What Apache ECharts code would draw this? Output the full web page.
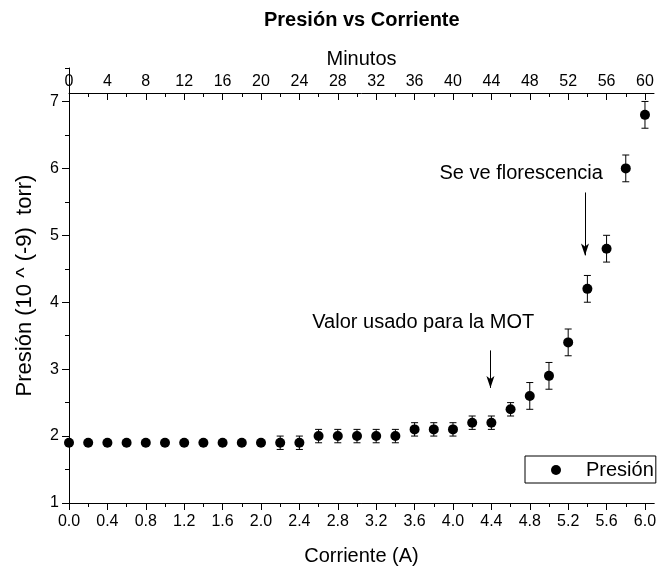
<!DOCTYPE html>
<html>
<head>
<meta charset="utf-8">
<script src="https://cdn.jsdelivr.net/npm/echarts@6/dist/echarts.min.js"></script>
<style>html,body{margin:0;padding:0;background:#fff}#c{width:665px;height:571px}</style>
</head>
<body>
<div id="c"></div>
<script>
// ---- data ----
const corriente = [0.0,0.2,0.4,0.6,0.8,1.0,1.2,1.4,1.6,1.8,2.0,2.2,2.4,2.6,2.8,3.0,3.2,3.4,3.6,3.8,4.0,4.2,4.4,4.6,4.8,5.0,5.2,5.4,5.6,5.8,6.0];
const presion   = [1.9,1.9,1.9,1.9,1.9,1.9,1.9,1.9,1.9,1.9,1.9,1.9,1.9,2.0,2.0,2.0,2.0,2.0,2.1,2.1,2.1,2.2,2.2,2.4,2.6,2.9,3.4,4.2,4.8,6.0,6.8];
const errores   = [0,0,0,0,0,0,0,0,0,0,0,0.1,0.1,0.1,0.1,0.1,0.1,0.1,0.1,0.1,0.1,0.1,0.1,0.1,0.2,0.2,0.2,0.2,0.2,0.2,0.2];
const xMajorTicks = [0.0,0.4,0.8,1.2,1.6,2.0,2.4,2.8,3.2,3.6,4.0,4.4,4.8,5.2,5.6,6.0];
const xMinorTicks = [0.2,0.6,1.0,1.4,1.8,2.2,2.6,3.0,3.4,3.8,4.2,4.6,5.0,5.4,5.8];
const minMajorTicks = [0,4,8,12,16,20,24,28,32,36,40,44,48,52,56,60];
const minMinorTicks = [2,6,10,14,18,22,26,30,34,38,42,46,50,54,58];
const yMajorTicks = [1,2,3,4,5,6,7];
const yMinorTicks = [1.5,2.5,3.5,4.5,5.5,6.5,7.5];
const xRange = [0, 6.094];
const minRange = [0, 60.94];
const yRange = [1, 7.5];
// annotations: [text, x, y] and arrows [x, yStart, yEnd]
const notaTextos = ['Valor usado para la MOT', 'Se ve florescencia'];
const notaX = [3.69, 4.71];
const notaY = [3.70, 5.93];
const flechaX = [4.39, 5.375];
const flechaY0 = [3.28, 5.64];
const flechaY1 = [2.72, 4.70];

const FONT = "'Liberation Sans', Arial, sans-serif";
const chart = echarts.init(document.getElementById('c'), null, {renderer:'canvas'});

const scatterData = corriente.map((x,i)=>[x, presion[i]]);
const errData = corriente.map((x,i)=>[x, presion[i]-errores[i], presion[i]+errores[i], errores[i]]).filter(d=>d[3]>0);

const lineStyle = {color:'#000', width:1};
function xAxisBase(extra){
  return Object.assign({
    type:'value', gridIndex:0, position:'bottom', min:xRange[0], max:xRange[1],
    axisLine:{show:true, onZero:false, lineStyle:lineStyle},
    splitLine:{show:false}
  }, extra);
}

const option = {
  backgroundColor:'#fff',
  animation:false,
  title:{
    text:'Presión vs Corriente', left:259, top:5,
    textStyle:{fontFamily:FONT, fontSize:20, fontWeight:'bold', color:'#000'}
  },
  grid:[
    {left:69, right:11, top:68, bottom:68},
    {left:69, right:11, top:93, bottom:68}
  ],
  legend:{
    data:['Presión'], left:525, top:456, orient:'vertical',
    borderColor:'#000', borderWidth:1, borderRadius:0,
    padding:[4,2,3,26], itemWidth:10, itemHeight:10,
    textStyle:{fontFamily:FONT, fontSize:20, color:'#000', padding:[0,0,0,20]}
  },
  xAxis:[
    xAxisBase({
      name:'Corriente (A)', nameLocation:'middle', nameGap:43,
      nameTextStyle:{fontFamily:FONT, fontSize:20, color:'#000'},
      axisTick:{show:true, inside:false, length:7, lineStyle:lineStyle, customValues:xMajorTicks},
      axisLabel:{show:true, margin:11, fontFamily:FONT, fontSize:16, color:'#000', customValues:xMajorTicks,
        formatter:v=>Number(v).toFixed(1)}
    }),
    xAxisBase({
      axisTick:{show:true, inside:false, length:4, lineStyle:lineStyle, customValues:xMinorTicks},
      axisLabel:{show:false}
    }),
    {
      type:'value', gridIndex:1, position:'top', min:minRange[0], max:minRange[1],
      name:'Minutos', nameLocation:'middle', nameGap:24,
      nameTextStyle:{fontFamily:FONT, fontSize:20, color:'#000'},
      axisLine:{show:true, onZero:false, lineStyle:lineStyle},
      axisTick:{show:true, inside:true, length:7, lineStyle:lineStyle, customValues:minMajorTicks},
      axisLabel:{show:true, margin:3, fontFamily:FONT, fontSize:16, color:'#000', customValues:minMajorTicks},
      splitLine:{show:false}
    },
    {
      type:'value', gridIndex:1, position:'top', min:minRange[0], max:minRange[1],
      axisLine:{show:false, onZero:false},
      axisTick:{show:true, inside:true, length:4, lineStyle:lineStyle, customValues:minMinorTicks},
      axisLabel:{show:false},
      splitLine:{show:false}
    }
  ],
  yAxis:[
    {
      type:'value', gridIndex:0, position:'left', min:yRange[0], max:yRange[1],
      name:'Presión (10 ^ (-9)  torr)', nameLocation:'middle', nameGap:33,
      nameTextStyle:{fontFamily:FONT, fontSize:22, color:'#000'},
      axisLine:{show:true, onZero:false, lineStyle:lineStyle},
      axisTick:{show:true, inside:false, length:7, lineStyle:lineStyle, customValues:yMajorTicks},
      axisLabel:{show:true, margin:10, fontFamily:FONT, fontSize:16, color:'#000', customValues:yMajorTicks},
      splitLine:{show:false}
    },
    {
      type:'value', gridIndex:0, position:'left', offset:0, min:yRange[0], max:yRange[1],
      axisLine:{show:false, onZero:false},
      axisTick:{show:true, inside:false, length:4, lineStyle:lineStyle, customValues:yMinorTicks},
      axisLabel:{show:false},
      splitLine:{show:false}
    },
    {
      type:'value', gridIndex:1, show:false, min:yRange[0], max:yRange[1]
    }
  ],
  series:[
    {
      name:'errores', type:'custom', xAxisIndex:0, yAxisIndex:0,
      data:errData, clip:false, z:3,
      renderItem:function(params, api){
        const x = api.value(0);
        const lo = api.coord([x, api.value(1)]);
        const hi = api.coord([x, api.value(2)]);
        const hw = 3.5;
        const st = {stroke:'#000', lineWidth:1};
        return {type:'group', children:[
          {type:'line', shape:{x1:hi[0], y1:hi[1], x2:lo[0], y2:lo[1]}, style:st},
          {type:'line', shape:{x1:hi[0]-hw, y1:hi[1], x2:hi[0]+hw, y2:hi[1]}, style:st},
          {type:'line', shape:{x1:lo[0]-hw, y1:lo[1], x2:lo[0]+hw, y2:lo[1]}, style:st}
        ]};
      }
    },
    {
      name:'Presión', type:'scatter', xAxisIndex:0, yAxisIndex:0,
      data:scatterData, symbol:'circle', symbolSize:10, clip:false, z:4,
      itemStyle:{color:'#000', opacity:1},
      markLine:{
        silent:true, symbol:['none','arrow'], symbolSize:[6,12],
        lineStyle:{color:'#000', width:1, type:'solid', opacity:1},
        label:{show:false},
        data:flechaX.map((x,i)=>[{coord:[x, flechaY0[i]]},{coord:[x, flechaY1[i]]}])
      },
      markPoint:{
        silent:true, symbol:'circle', symbolSize:0,
        label:{show:true, position:'inside', color:'#000', fontFamily:FONT, fontSize:20,
          formatter:p=>p.name},
        data:notaTextos.map((t,i)=>({name:t, coord:[notaX[i], notaY[i]]}))
      }
    }
  ]
};
chart.setOption(option);
</script>
</body>
</html>
